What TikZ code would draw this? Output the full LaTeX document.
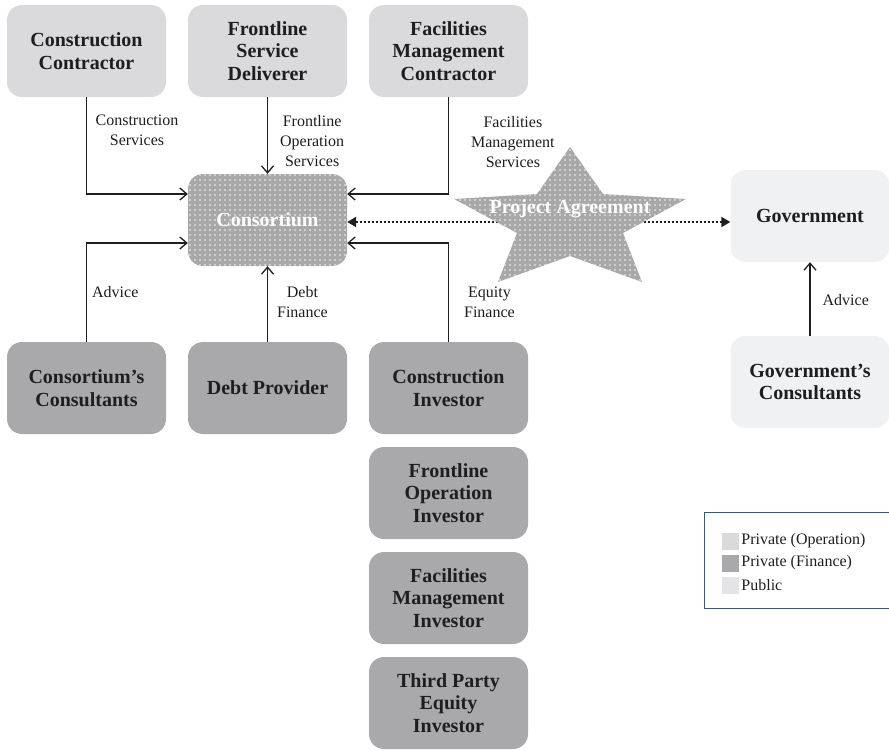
\documentclass[tikz,border=0pt]{standalone}
\usepackage{fontspec}
\setmainfont{Liberation Serif}
\usetikzlibrary{positioning, arrows.meta, patterns.meta}
\definecolor{opgray}{HTML}{DADADC}
\definecolor{fingray}{HTML}{A9A9AB}
\definecolor{pubgray}{HTML}{F0F1F3}
\definecolor{pubswatch}{HTML}{E4E4E6}
\definecolor{consgray}{HTML}{A8A8A8}
\definecolor{inkgray}{HTML}{1E1E1E}
\definecolor{legendline}{HTML}{3B5878}

\begin{document}
\begin{tikzpicture}[x=1pt, y=-1pt, node distance=181pt, on grid,
    party/.style={rounded corners=15pt, minimum width=159pt, minimum height=92pt,
        align=center, text=inkgray, font=\fontsize{20}{22.5}\selectfont\bfseries},
    opbox/.style={party, fill=opgray},
    finbox/.style={party, fill=fingray},
    pubbox/.style={party, fill=pubgray},
    dotfill/.style={preaction={fill=consgray}, pattern={Dots[distance=5pt, radius=0.85pt]},
        pattern color=white!90!consgray},
    consbox/.style={party, dotfill, text=white},
    flow/.style={line width=1.3pt, draw=inkgray, -{Straight Barb[length=7pt, width=12pt]}},
    agree/.style={line width=2pt, draw=inkgray, dash pattern=on 2pt off 2pt,
        {Triangle[length=9pt, width=10pt]}-{Triangle[length=9pt, width=10pt]}},
    lbl/.style={inner sep=0pt, align=center, text=inkgray, font=\fontsize{16}{20}\selectfont},
    swatch/.style={minimum size=17pt, inner sep=0pt}]

    \useasboundingbox (0,0) rectangle (889,750);

    % private operation
    \node[opbox] (cc) at (86.5,51) {Construction\\Contractor};
    \node[opbox, right=of cc] (fsd) {Frontline\\Service\\Deliverer};
    \node[opbox, right=of fsd] (fmc) {Facilities\\Management\\Contractor};

    \node[consbox, below=169pt of fsd] (cons) {Consortium};

    % private finance
    \node[finbox, below=168pt of cons] (dp) {Debt Provider};
    \node[finbox, left=of dp] (ccons) {Consortium's\\Consultants};
    \node[finbox, right=of dp] (ci) {Construction\\Investor};
    \node[finbox, below=105pt of ci] (foi) {Frontline\\Operation\\Investor};
    \node[finbox, below=105pt of foi] (fmi) {Facilities\\Management\\Investor};
    \node[finbox, below=105pt of fmi] (tpei) {Third Party\\Equity\\Investor};

    % public
    \node[pubbox] (gov) at (810,216) {Government};
    \node[pubbox, below=166pt of gov] (gcons) {Government's\\Consultants};

    \draw[flow] (cc) |- ([yshift=26pt]cons.west)
        node[lbl, pos=0.17, right=8.5pt] (csl) {Construction\\Services};
    \draw[flow] (fsd) -- (cons)
        node[lbl, pos=0.57, right=12pt] (fosl) {Frontline\\Operation\\Services};
    \draw[flow] (fmc) |- ([yshift=26pt]cons.east)
        node[lbl, pos=0.23, right=22pt] (fmsl) {Facilities\\Management\\Services};
    \draw[flow] (ccons) |- ([yshift=-23pt]cons.west)
        node[lbl, pos=0.25, right=5pt] (advl) {Advice};
    \draw[flow] (dp) -- (cons)
        node[lbl, pos=0.53, right=9pt] (dfl) {Debt\\Finance};
    \draw[flow] (ci) |- ([yshift=-23pt]cons.east)
        node[lbl, pos=0.2, right=15pt] (efl) {Equity\\Finance};
    \draw[flow] (gcons) -- (gov)
        node[lbl, pos=0.49, right=12pt] (gadvl) {Advice};

    % project agreement
    \draw[agree] ([yshift=-2pt]cons.east) -- ([yshift=-2pt]cons.east -| gov.west);
    \fill[dotfill] (570,147) -- (537,194) -- (454,199) -- (517,233) -- (498,282)
        -- (570,256) -- (642,282) -- (623,233) -- (686,199) -- (603,194) -- cycle;
    \node[inner sep=0pt, text=white, font=\fontsize{20}{22.5}\selectfont\bfseries]
        (pa) at (570,209) {Project Agreement};

    % legend
    \draw[legendline, line width=0.9pt] (889,512) -| (704,608) -- (889,608);
    \node[swatch, fill=opgray] (sw1) at (730.5,541) {};
    \node[swatch, fill=fingray] (sw2) at (730.5,563) {};
    \node[swatch, fill=pubswatch] (sw3) at (730.5,585) {};
    \node[lbl, anchor=west] (lg1) at ([xshift=2pt]sw1.east) {Private (Operation)};
    \node[lbl, anchor=west] (lg2) at ([xshift=2pt]sw2.east) {Private (Finance)};
    \node[lbl, anchor=west] (lg3) at ([xshift=2pt]sw3.east) {Public};
\end{tikzpicture}
\end{document}
